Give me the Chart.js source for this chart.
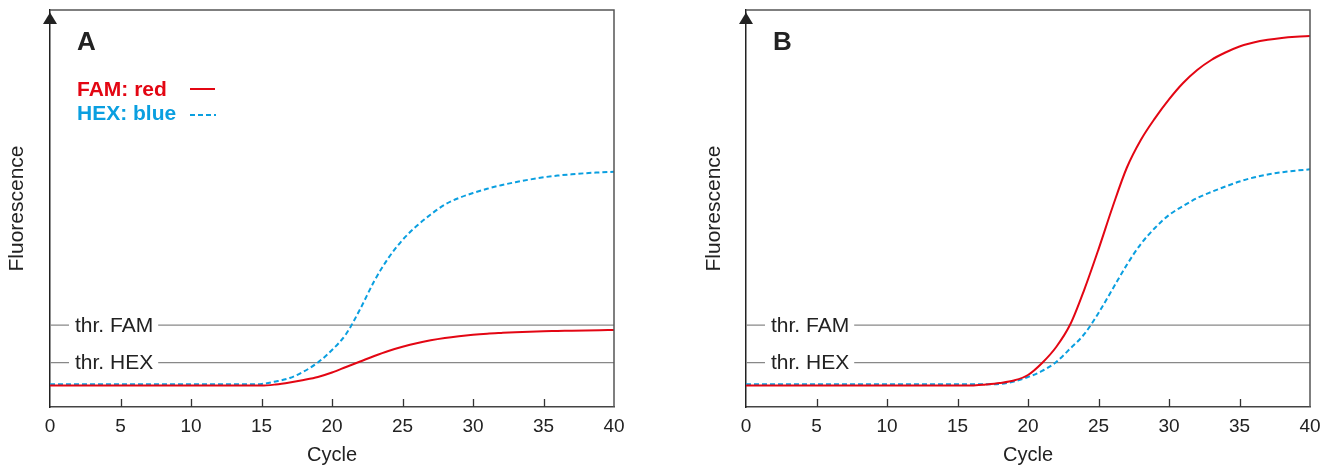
<!DOCTYPE html>
<html>
<head>
<meta charset="utf-8">
<script src="https://cdn.jsdelivr.net/npm/chart.js@4/dist/chart.umd.min.js"></script>
<style>
  html, body { margin: 0; padding: 0; background: #fff; }
  body { width: 1332px; height: 470px; position: relative; overflow: hidden; }
  .panel { position: absolute; top: 0; height: 470px; }
  #wrapA { left: 0; width: 660px; }
  #wrapB { left: 697px; width: 635px; }
</style>
</head>
<body>
<div class="panel" id="wrapA"><canvas id="chartA"></canvas></div>
<div class="panel" id="wrapB"><canvas id="chartB"></canvas></div>
<script>
    // Cycle numbers (x) and tick labels
    const cycles = [0, 1, 2, 3, 4, 5, 6, 7, 8, 9, 10, 11, 12, 13, 14, 15, 16, 17, 18, 19, 20,
                    21, 22, 23, 24, 25, 26, 27, 28, 29, 30, 31, 32, 33, 34, 35, 36, 37, 38, 39, 40];
    const xTicks = [0, 5, 10, 15, 20, 25, 30, 35, 40];

    // Panel A (fluorescence, arbitrary units 0-100)
    const famA = [5.4, 5.4, 5.4, 5.4, 5.4, 5.4, 5.4, 5.4, 5.4, 5.4, 5.4, 5.4, 5.4, 5.4, 5.4, 5.4,
                  5.67, 6.17, 6.80, 7.56, 8.69, 10.08, 11.46, 12.85, 14.11, 15.16, 16.07, 16.80,
                  17.38, 17.83, 18.19, 18.46, 18.66, 18.84, 18.97, 19.07, 19.14, 19.22, 19.29, 19.35, 19.40];
    const hexA = [5.7, 5.7, 5.7, 5.7, 5.7, 5.7, 5.7, 5.7, 5.7, 5.7, 5.7, 5.7, 5.7, 5.7, 5.7,
                  5.8, 6.42, 7.30, 8.94, 11.21, 14.36, 18.39, 24.69, 31.74, 37.53, 42.07, 45.59,
                  48.49, 50.98, 52.64, 53.90, 54.96, 55.87, 56.62, 57.28, 57.86, 58.29, 58.61,
                  58.89, 59.09, 59.27];

    // Panel B
    const famB = [5.4, 5.4, 5.4, 5.4, 5.4, 5.4, 5.4, 5.4, 5.4, 5.4, 5.4, 5.4, 5.4, 5.4, 5.4, 5.4, 5.4,
                  5.67, 6.05, 6.68, 8.06, 11.08, 15.11, 20.83, 29.65, 39.72, 50.38, 60.20, 67.25,
                  72.70, 77.48, 81.61, 84.89, 87.41, 89.29, 90.81, 91.81, 92.49, 92.95, 93.25, 93.45];
    const hexB = [5.7, 5.7, 5.7, 5.7, 5.7, 5.7, 5.7, 5.7, 5.7, 5.7, 5.7, 5.7, 5.7, 5.7, 5.7, 5.7, 5.7, 5.7,
                  5.79, 6.42, 7.56, 9.07, 11.34, 14.74, 18.39, 23.68, 29.72, 35.77, 41.06, 45.09,
                  48.36, 50.63, 52.64, 54.16, 55.54, 56.80, 57.81, 58.56, 59.12, 59.55, 59.87];

    // Thresholds
    const thrLabels = ['thr. FAM', 'thr. HEX'];
    const thrValues = [20.6, 11.2];

    const legendLabels = ['FAM: red', 'HEX: blue'];

    const RED = '#e30613';
    const BLUE = '#0a9fe0';
    const TEXT = '#222';
    const FONT = "'Liberation Sans', Arial, Helvetica, sans-serif";

    const pts = arr => cycles.map((c, i) => ({ x: c, y: arr[i] }));

    // Frame, arrow, inward ticks, threshold labels, panel letter, legend
    const decor = {
        id: 'decor',
        afterDatasetsDraw(chart, args, opts) {
            const { ctx, chartArea: a, scales: { x, y } } = chart;
            ctx.save();

            // top and right border
            ctx.strokeStyle = '#555';
            ctx.lineWidth = 1.5;
            ctx.beginPath();
            ctx.moveTo(a.left, a.top);
            ctx.lineTo(a.right, a.top);
            ctx.lineTo(a.right, a.bottom);
            ctx.stroke();

            // tick marks pointing inward
            ctx.strokeStyle = '#333';
            ctx.lineWidth = 1.3;
            ctx.beginPath();
            xTicks.forEach(v => {
                if (v > x.min && v < x.max) {
                    const px = Math.round(x.getPixelForValue(v)) + 0.5;
                    ctx.moveTo(px, a.bottom);
                    ctx.lineTo(px, a.bottom - 8);
                }
            });
            ctx.stroke();

            // arrow head on y axis
            ctx.fillStyle = '#222';
            ctx.beginPath();
            ctx.moveTo(a.left, a.top + 2.5);
            ctx.lineTo(a.left - 7, a.top + 14);
            ctx.lineTo(a.left + 7, a.top + 14);
            ctx.closePath();
            ctx.fill();

            // threshold labels
            ctx.font = '21px ' + FONT;
            ctx.textBaseline = 'middle';
            thrLabels.forEach((lbl, i) => {
                const py = y.getPixelForValue(thrValues[i]);
                const tx = a.left + 25;
                const w = ctx.measureText(lbl).width;
                ctx.fillStyle = '#fff';
                ctx.fillRect(tx - 6, py - 3, w + 11, 6);
                ctx.fillStyle = TEXT;
                ctx.fillText(lbl, tx, py + 1);
            });

            // panel letter
            ctx.textBaseline = 'alphabetic';
            ctx.font = 'bold 26px ' + FONT;
            ctx.fillStyle = TEXT;
            ctx.fillText(opts.letter, a.left + 27, a.top + 40);

            // legend
            if (opts.legend) {
                ctx.font = 'bold 21px ' + FONT;
                ctx.fillStyle = RED;
                ctx.fillText(legendLabels[0], a.left + 27, a.top + 86);
                ctx.fillStyle = BLUE;
                ctx.fillText(legendLabels[1], a.left + 27, a.top + 110);

                ctx.lineWidth = 2;
                ctx.strokeStyle = RED;
                ctx.beginPath();
                ctx.moveTo(a.left + 140, a.top + 79);
                ctx.lineTo(a.left + 165, a.top + 79);
                ctx.stroke();

                ctx.strokeStyle = BLUE;
                ctx.setLineDash([5, 3]);
                ctx.beginPath();
                ctx.moveTo(a.left + 140, a.top + 105);
                ctx.lineTo(a.left + 166, a.top + 105);
                ctx.stroke();
            }
            ctx.restore();
        }
    };

    function makeChart(id, fam, hex, letter, yWidth, rightPad, legend) {
        const thrSets = thrValues.map(v => ({
            data: [{ x: 0, y: v }, { x: 40, y: v }],
            borderColor: '#888',
            borderWidth: 1.3,
            pointRadius: 0,
            tension: 0
        }));
        return new Chart(document.getElementById(id), {
            type: 'line',
            data: {
                datasets: [
                    {
                        label: 'FAM',
                        data: pts(fam),
                        borderColor: RED,
                        borderWidth: 2,
                        pointRadius: 0,
                        cubicInterpolationMode: 'monotone'
                    },
                    {
                        label: 'HEX',
                        data: pts(hex),
                        borderColor: BLUE,
                        borderWidth: 2,
                        borderDash: [5, 3],
                        pointRadius: 0,
                        cubicInterpolationMode: 'monotone'
                    },
                    ...thrSets
                ]
            },
            options: {
                responsive: true,
                maintainAspectRatio: false,
                animation: false,
                events: [],
                layout: { padding: { top: 10, right: rightPad, left: 0, bottom: 0 } },
                plugins: {
                    legend: { display: false },
                    tooltip: { enabled: false },
                    decor: { letter: letter, legend: legend }
                },
                scales: {
                    x: {
                        type: 'linear',
                        min: 0,
                        max: 40,
                        afterBuildTicks: s => { s.ticks = xTicks.map(v => ({ value: v })); },
                        afterFit: s => { s.height = 63; },
                        grid: { display: false },
                        border: { display: true, color: '#444', width: 1.5 },
                        ticks: {
                            font: { size: 19, family: FONT },
                            color: TEXT,
                            padding: 0,
                            maxRotation: 0
                        },
                        title: {
                            display: true,
                            text: 'Cycle',
                            font: { size: 20, family: FONT },
                            color: TEXT,
                            padding: { top: 4, bottom: 3 }
                        }
                    },
                    y: {
                        min: 0,
                        max: 100,
                        afterFit: s => { s.width = yWidth; },
                        grid: { display: false },
                        border: { display: true, color: '#222', width: 1.5 },
                        ticks: { display: false },
                        title: {
                            display: true,
                            text: 'Fluorescence',
                            font: { size: 21, family: FONT },
                            color: TEXT,
                            padding: { top: 5, bottom: 0 }
                        }
                    }
                }
            },
            plugins: [decor]
        });
    }

    makeChart('chartA', famA, hexA, 'A', 50, 46, true);
    makeChart('chartB', famB, hexB, 'B', 49, 22, false);
</script>
</body>
</html>
